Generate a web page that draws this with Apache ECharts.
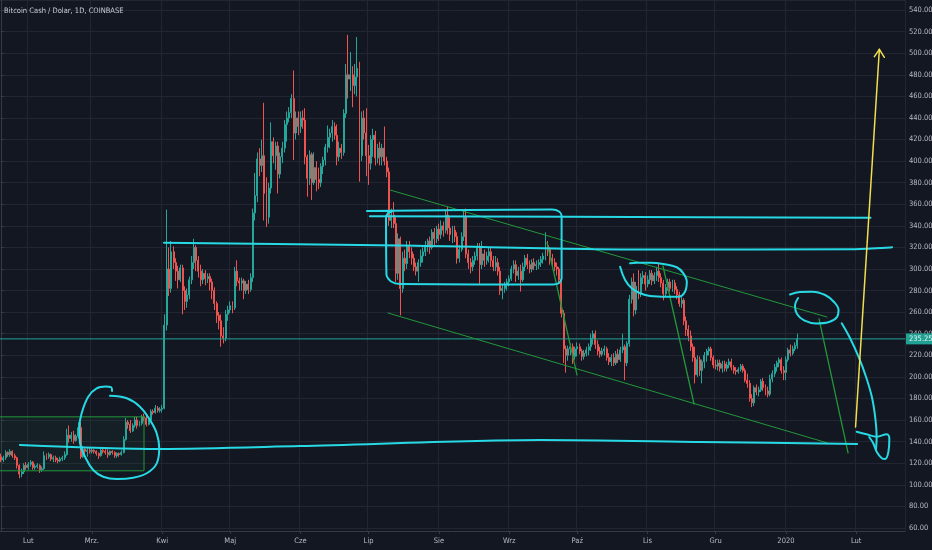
<!DOCTYPE html>
<html>
<head>
<meta charset="utf-8">
<title>Bitcoin Cash / Dolar, 1D, COINBASE</title>
<script src="https://cdn.jsdelivr.net/npm/echarts@6/dist/echarts.min.js"></script>
<style>
  html, body { margin: 0; padding: 0; background: #131722; }
  #chart { width: 932px; height: 550px; }
</style>
</head>
<body>
<div id="chart"></div>
<script>
const FONT = "'DejaVu Sans Condensed', 'Liberation Sans Narrow', 'Roboto', sans-serif";

const titleText = "Bitcoin Cash / Dolar, 1D, COINBASE";
const monthNames = ["Sty", "Lut", "Mrz.", "Kwi", "Maj", "Cze", "Lip", "Sie", "Wrz", "Paź", "Lis", "Gru"];
const firstDay = "2019-01-20";
const dayCount = 399; // axis runs on to 2020-02-22, empty after the last candle
const lastPrice = 235.25;

// daily candles: [open, close, low, high]
const jan19 = [
  [126,123,121,129],[123,125,121,127],[125,130,123,132],[130,128,126,131],[128,131,126,133],
  [131,127,125,132],[127,125,123,129],[125,118,115,126],[118,110,106,119],[110,112,107,115],
  [112,118,110,120],[118,116,114,121],
];
const feb19 = [
  [116,119,114,121],[119,121,117,123],[121,116,114,122],[116,117,114,119],[117,118,115,120],
  [118,114,111,119],[114,115,112,117],[115,127,114,131],[127,126,123,129],[126,128,124,130],
  [128,124,122,129],[124,125,121,127],[125,123,121,127],[123,122,120,125],[122,124,121,126],
  [124,125,122,127],[125,128,123,131],[128,146,127,152],[146,143,139,155],[143,146,140,149],
  [146,141,138,150],[141,145,140,147],[145,153,143,158],[153,126,124,158],[126,133,125,136],
  [133,131,128,135],[131,132,126,134],[132,131,129,135],
];
const mar19 = [
  [131,132,129,134],[132,131,129,133],[131,129,127,132],[129,127,124,130],[127,132,126,134],
  [132,131,129,134],[131,130,128,133],[130,128,125,133],[128,131,127,132],[131,130,128,132],
  [130,127,125,131],[127,129,125,130],[129,128,126,130],[128,130,127,132],[130,142,129,145],
  [142,158,141,162],[158,156,152,160],[156,150,148,160],[150,155,149,157],[155,160,153,163],
  [160,155,152,163],[155,157,154,159],[157,163,155,165],[163,162,159,166],[162,156,154,164],
  [156,160,155,162],[160,168,159,170],[168,167,165,170],[167,171,166,174],[171,169,167,173],
  [169,170,167,172],
];
const apr19 = [
  [170,171,167,174],[171,248,170,258],[248,300,243,355],[300,282,275,320],[282,316,278,326],
  [316,306,300,321],[306,298,289,310],[298,290,282,303],[290,301,288,304],[301,280,258,304],
  [280,270,262,284],[270,276,264,282],[276,290,272,293],[290,306,286,312],[306,320,300,328],
  [320,308,298,322],[308,298,292,312],[298,290,284,304],[290,296,286,300],[296,291,285,299],
  [291,293,287,296],[293,288,280,296],[288,280,272,291],[280,268,262,283],[268,257,250,270],
  [257,252,244,260],[252,238,228,258],[238,236,231,246],[236,258,233,262],[258,262,252,266],
];
const may19 = [
  [262,266,259,270],[266,264,259,270],[264,298,262,302],[298,289,284,308],[289,287,280,292],
  [287,289,280,292],[289,280,272,291],[280,286,277,289],[286,281,277,290],[281,292,279,296],
  [292,352,288,356],[352,368,345,389],[368,402,362,408],[402,396,386,412],[396,405,390,420],
  [405,370,345,454],[370,348,339,385],[348,375,342,380],[375,418,370,436],[418,405,398,422],
  [405,414,392,418],[414,388,370,418],[388,404,384,408],[404,412,398,418],[412,434,408,438],
  [434,440,418,446],[440,445,436,450],[445,458,440,462],[458,426,401,484],[426,440,420,446],
  [440,432,424,446],
];
const jun19 = [
  [432,440,426,446],[440,438,430,447],[438,404,397,449],[404,384,367,406],[384,406,378,410],
  [406,380,364,408],[380,394,378,408],[394,383,372,400],[383,380,374,394],[380,395,376,398],
  [395,401,388,404],[401,413,396,416],[413,422,408,433],[422,426,412,430],[426,432,418,438],
  [432,424,420,436],[424,404,396,434],[404,412,400,418],[412,408,402,416],[408,444,405,448],
  [444,480,440,490],[480,476,458,517],[476,480,465,501],[480,470,450,488],[470,478,462,490],
  [478,486,460,515],[486,405,381,492],[405,440,400,446],[440,426,420,447],[426,405,386,449],
];
const jul19 = [
  [405,398,378,415],[398,420,392,424],[420,424,404,430],[424,403,396,428],[403,412,398,416],
  [412,404,396,418],[404,412,396,416],[412,400,396,432],[400,390,385,404],[390,345,340,394],
  [345,350,338,356],[350,342,338,362],[342,296,288,348],[296,328,290,333],[328,282,257,330],
  [282,310,278,316],[310,305,298,318],[305,321,300,326],[321,316,310,326],[316,310,304,320],
  [310,302,298,314],[302,298,294,306],[298,306,288,309],[306,312,302,318],[312,316,306,320],
  [316,322,312,326],[322,326,316,328],[326,320,314,330],[320,334,318,337],[334,328,322,338],
  [328,337,324,340],
];
const aug19 = [
  [337,332,326,342],[332,340,328,345],[340,336,330,344],[336,350,333,354],[350,338,332,358],
  [338,332,326,348],[332,336,324,340],[336,330,325,340],[330,310,305,334],[310,318,306,322],
  [318,330,316,334],[330,348,326,355],[348,314,310,356],[314,306,300,318],[306,302,296,310],
  [302,308,298,312],[308,312,304,316],[312,320,308,324],[320,304,286,324],[304,314,300,326],
  [314,308,302,318],[308,312,304,316],[312,316,306,320],[316,308,302,320],[308,302,298,312],
  [302,306,298,312],[306,298,294,310],[298,280,276,302],[280,282,272,286],[282,285,278,288],
  [285,288,280,291],
];
const sep19 = [
  [288,291,284,294],[291,300,289,303],[300,304,296,308],[304,294,288,308],[294,298,290,302],
  [298,290,279,304],[290,302,288,306],[302,310,298,313],[310,304,300,314],[304,300,296,308],
  [300,306,297,309],[306,303,299,310],[303,304,299,308],[304,306,300,309],[306,309,302,312],
  [309,312,305,315],[312,322,308,334],[322,318,312,326],[318,310,304,320],[310,306,302,314],
  [306,302,298,310],[302,300,294,306],[300,290,286,302],[290,259,255,293],[259,226,213,262],
  [226,220,204,229],[220,226,215,229],[226,228,220,231],[228,219,212,231],[219,226,216,228],
];
const oct19 = [
  [226,228,219,232],[228,224,221,231],[224,219,215,226],[219,222,216,225],[222,225,219,228],
  [225,228,220,231],[228,236,224,240],[236,240,230,243],[240,230,226,243],[230,224,220,234],
  [224,221,218,228],[221,224,219,227],[224,226,220,229],[226,218,215,228],[218,214,211,222],
  [214,218,210,221],[218,213,210,222],[213,221,211,224],[221,216,213,226],[216,225,214,228],
  [225,228,222,240],[228,213,197,230],[213,231,210,233],[231,272,228,276],[272,288,268,292],
  [288,262,256,296],[262,284,258,288],[284,278,272,299],[278,292,274,296],[292,294,286,298],
  [294,286,280,297],
];
const nov19 = [
  [286,290,283,294],[290,296,286,299],[296,289,285,299],[289,294,286,297],[294,298,289,302],
  [298,292,288,305],[292,287,283,296],[287,277,271,290],[277,283,274,286],[283,288,280,291],
  [288,282,279,291],[282,287,279,290],[287,281,277,290],[281,276,272,284],[276,268,265,279],
  [268,271,264,274],[271,252,248,273],[252,244,238,256],[244,238,233,248],[238,228,224,243],
  [228,218,214,231],[218,202,194,228],[202,216,200,220],[216,206,201,219],[206,214,194,216],
  [214,220,208,223],[220,224,214,226],[224,226,220,228],[226,218,215,228],[218,211,208,220],
];
const dec19 = [
  [211,210,207,216],[210,213,206,216],[213,208,205,216],[208,212,204,215],[212,208,205,215],
  [208,211,205,214],[211,214,208,217],[214,209,206,217],[209,206,203,211],[206,205,202,209],
  [205,207,203,209],[207,210,205,212],[210,206,204,212],[206,197,195,208],[197,194,190,203],
  [194,180,177,197],[180,176,172,184],[176,190,173,192],[190,186,183,193],[186,188,182,191],
  [188,196,186,198],[196,190,187,199],[190,187,183,193],[187,184,181,191],[184,198,182,202],
  [198,203,195,206],[203,209,200,212],[209,213,205,215],[213,216,209,218],[216,206,203,218],
  [206,204,197,210],
];
const jan20 = [
  [204,216,197,219],[216,225,214,227],[225,222,219,230],[222,226,220,229],[226,229,224,232],
  [229,235.25,226,240],
];

// hand drawn marks, as [day index from 2019-01-20, price]
const boxEdge = [[-1, 163], [63, 163], [63, 113], [-1, 113]];
const supportLow = [[8.3, 136.9], [70, 133.2], [131.8, 135.9], [237.6, 141.5], [308.1, 139.7], [377.4, 137.8]];
const resistMid = [[71.8, 324.4], [175.9, 321.8], [286.1, 318.1], [374.3, 318.2], [392.8, 320.1]];
const resistTop = [[162.6, 348.8], [250, 348.4], [383.3, 347.6]];
const rangeBox = [
  [161.3, 353.7], [242.9, 355.1], [246, 353.3], [247.1, 349.1], [247.1, 291.7], [246, 287],
  [243.3, 285.6], [175.9, 286.1], [171.9, 288.4], [169.9, 294.4], [169.7, 347.3], [170.6, 351.9], [172.3, 353.3],
];
const trendUpper = [[171.5, 373.2], [364.1, 255.5]];
const trendLower = [[170.6, 259.2], [364, 139]];
const dropA = [[240.7, 324.1], [253.9, 201.8]];
const dropB = [[291.8, 302.8], [305.5, 174.9]];
const dropC = [[360.6, 253.7], [373.4, 129.5]];
const loopFeb = [
  [48.9, 186.9], [48.4, 190.6], [46.2, 191.1], [42.1, 189.4], [38.4, 181.7], [35.5, 166.3],
  [34.5, 153.8], [34.8, 138.5], [37, 126], [40.6, 113.7], [45, 107.5], [51, 105.4], [58.3, 106.6],
  [64.2, 110.7], [68.6, 119.9], [69.7, 133.8], [68.6, 147.7], [65.6, 160.1], [61.2, 172.4],
  [55.4, 180.2], [48, 182.6],
];
const loopOct = [
  [272.9, 302.1], [275.1, 289.8], [278, 282.1], [281.7, 277.5], [286.1, 275], [293.5, 274.3],
  [298.6, 274.3], [301.5, 279], [302.3, 288.2], [300.8, 296], [297.9, 301.6], [292, 304.6],
  [286.1, 305.8], [280.2, 305.8], [277.3, 305.3],
];
const loopJan = [
  [347.8, 276.4], [352.2, 278.7], [357.5, 279], [363.3, 275.9], [367.2, 269.4], [369.2, 262],
  [368.5, 255.5], [365, 250.9], [359.3, 249.5], [354, 252.3], [350.9, 258.3], [350, 265.7], [351.4, 273.1],
];
const tailCurve = [
  [370.6, 249.7], [374.3, 235.8], [378, 218.7], [381.3, 200.2], [384, 180.4], [385.5, 160.1],
  [386, 144.3], [385.7, 132.2],
];
const tailScribble = [
  [377.2, 149.2], [381.6, 146.8], [386, 144.6], [390.5, 146.8], [391.6, 143.1], [391.2, 130.7],
  [389.7, 123.9], [388.3, 124.6], [386, 130.7], [384.5, 138.5], [382.7, 144.3],
];
const arrowShaft = [[376.7, 153.6], [387.2, 503.6]];
const arrowHead = [[385, 496.8], [387.2, 503.6], [389.4, 496.2]];
const priceLine = [[-0.5, lastPrice], [dayCount - 0.5, lastPrice]];

const COLORS = {
  bg: "#131722",
  grid: "#232632",
  axis: "#363a45",
  text: "#b8bbc3",
  up: "#26a69a",
  down: "#ef5350",
  priceLine: "#22a294",
  cyan: "#27d9e4",
  green: "#22983a",
  yellow: "#f2df4f",
};

const buildDates = () => {
  const out = [];
  const cursor = new Date(firstDay + "T00:00:00Z");
  for (let i = 0; i < dayCount; i += 1) {
    out.push(cursor.toISOString().slice(0, 10));
    cursor.setUTCDate(cursor.getUTCDate() + 1);
  }
  return out;
};

const isMonthStart = (value) => value.slice(8) === "01";

const monthLabel = (value) => {
  const month = Number(value.slice(5, 7)) - 1;
  return month === 0 ? value.slice(0, 4) : monthNames[month];
};

const drawing = (data, color, width, smooth) => ({
  type: "line",
  xAxisIndex: 1,
  yAxisIndex: 0,
  data,
  symbol: "none",
  smooth: smooth || false,
  silent: true,
  z: 5,
  lineStyle: { color, width, cap: "round", join: "round" },
});

const dates = buildDates();
const candles = [].concat(jan19, feb19, mar19, apr19, may19, jun19, jul19, aug19, sep19, oct19, nov19, dec19, jan20);

const chart = echarts.init(document.getElementById("chart"));

chart.setOption({
  animation: false,
  backgroundColor: COLORS.bg,
  textStyle: { fontFamily: FONT },
  title: {
    text: titleText,
    left: 4,
    top: 7,
    padding: 0,
    textStyle: { color: "#c8cbd3", fontSize: 7.5, fontWeight: "normal", fontFamily: FONT },
  },
  grid: { left: 0, right: 27, top: 0, bottom: 19, containLabel: false, outerBoundsMode: "none" },
  xAxis: [
    {
      type: "category",
      data: dates,
      boundaryGap: true,
      axisLine: { lineStyle: { color: COLORS.axis } },
      axisTick: {
        show: true,
        length: 3,
        alignWithLabel: true,
        interval: (index, value) => isMonthStart(value),
        lineStyle: { color: COLORS.axis },
      },
      axisLabel: {
        interval: (index, value) => isMonthStart(value),
        formatter: monthLabel,
        color: COLORS.text,
        fontSize: 7.5,
        fontFamily: FONT,
        margin: 6,
      },
      splitLine: {
        show: true,
        interval: (index, value) => isMonthStart(value),
        lineStyle: { color: COLORS.grid },
      },
    },
    { type: "value", min: -0.5, max: dayCount - 0.5, show: false },
  ],
  yAxis: {
    type: "value",
    position: "right",
    min: 57.2,
    max: 549.3,
    splitNumber: 25,
    minInterval: 20,
    maxInterval: 20,
    axisLine: { show: true, lineStyle: { color: COLORS.axis } },
    axisTick: { show: true, length: 3, lineStyle: { color: COLORS.axis } },
    axisLabel: {
      formatter: (v) => v.toFixed(2),
      color: COLORS.text,
      fontSize: 7.5,
      fontFamily: FONT,
      margin: 4,
      showMinLabel: false,
      showMaxLabel: false,
    },
    splitLine: { show: true, lineStyle: { color: COLORS.grid } },
  },
  series: [
    {
      type: "candlestick",
      data: candles,
      barWidth: "65%",
      itemStyle: {
        color: COLORS.up,
        color0: COLORS.down,
        borderColor: COLORS.up,
        borderColor0: COLORS.down,
        borderWidth: 1,
      },
    },
    // current price line, tagged on the price scale
    Object.assign(drawing(priceLine, COLORS.priceLine, 1), {
      z: 3,
      endLabel: {
        show: true,
        distance: 1,
        formatter: () => lastPrice.toFixed(2),
        color: "#e4f3f1",
        backgroundColor: COLORS.priceLine,
        padding: [2, 2, 1, 3],
        fontSize: 7.5,
        fontFamily: FONT,
      },
    }),
    Object.assign(drawing(boxEdge, COLORS.green, 1), {
      markArea: {
        silent: true,
        itemStyle: { color: "rgba(40, 160, 80, 0.07)" },
        data: [[{ coord: [boxEdge[0][0], boxEdge[0][1]] }, { coord: [boxEdge[2][0], boxEdge[2][1]] }]],
      },
    }),
    drawing(trendUpper, COLORS.green, 1),
    drawing(trendLower, COLORS.green, 1),
    drawing(dropA, COLORS.green, 1.3),
    drawing(dropB, COLORS.green, 1.3),
    drawing(dropC, COLORS.green, 1.3),
    drawing(supportLow, COLORS.cyan, 2, 0.3),
    drawing(resistMid, COLORS.cyan, 2, 0.3),
    drawing(resistTop, COLORS.cyan, 2, 0.3),
    drawing(rangeBox, COLORS.cyan, 2, 0.25),
    drawing(loopFeb, COLORS.cyan, 2, 0.4),
    drawing(loopOct, COLORS.cyan, 2, 0.4),
    drawing(loopJan, COLORS.cyan, 2, 0.4),
    drawing(tailCurve, COLORS.cyan, 2, 0.4),
    drawing(tailScribble, COLORS.cyan, 2, 0.4),
    drawing(arrowShaft, COLORS.yellow, 1.5),
    drawing(arrowHead, COLORS.yellow, 1.5),
  ],
});
</script>
</body>
</html>
